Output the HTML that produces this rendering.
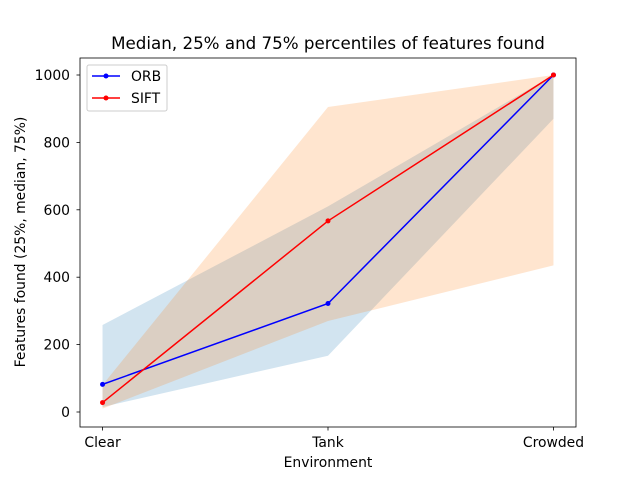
<!DOCTYPE html>
<html><head><meta charset="utf-8"><style>body{margin:0;background:#fff}svg{display:block;font-family:"DejaVu Sans","Liberation Sans",sans-serif}</style></head>
<body>
<svg id="chart" width="640" height="480"></svg>
<script>
const categories=["Clear","Tank","Crowded"];
const orbMedian=[82,322,1000];
const orbLow=[15,167,870];
const orbHigh=[258,610,1000];
const siftMedian=[28,567,1000];
const siftLow=[10,270,435];
const siftHigh=[80,905,1000];
const yTicks=[0,200,400,600,800,1000];
const NS="http://www.w3.org/2000/svg";
const svg=document.getElementById('chart');
const L=80,R=576,T=58,B=427;
const x=i=>L+(i+0.1)/2.2*(R-L);
const y=v=>412-v*0.337;
function el(tag,attrs,parent){const e=document.createElementNS(NS,tag);for(const k in attrs)e.setAttribute(k,attrs[k]);(parent||svg).appendChild(e);return e;}
function band(lo,hi,color,name){
  let d=lo.map((v,i)=>(i?'L':'M')+x(i)+','+y(v)).join(' ');
  for(let i=hi.length-1;i>=0;i--)d+=' L'+x(i)+','+y(hi[i]);
  const p=el('path',{d:d+'Z',fill:color,'fill-opacity':0.2});
  
  
}
band(orbLow,orbHigh,'#1f77b4','orb-band');
band(siftLow,siftHigh,'#ff7f0e','sift-band');
function line(vals,color,name){
  const p=el('polyline',{points:vals.map((v,i)=>x(i)+','+y(v)).join(' '),fill:'none',stroke:color,'stroke-width':1.5});
  
  
  vals.forEach((v,i)=>{const c=el('circle',{cx:x(i),cy:y(v),r:2.5,fill:color});
    
    });
}
line(orbMedian,'#0000ff','orb');
line(siftMedian,'#ff0000','sift');
const frame=el('rect',{x:L,y:T,width:R-L,height:B-T,fill:'none',stroke:'#000','stroke-width':0.8});


yTicks.forEach(v=>{el('line',{x1:L-3.5,x2:L,y1:y(v),y2:y(v),stroke:'#000','stroke-width':0.8});
  const t=el('text',{x:L-10,y:y(v)+5,'text-anchor':'end','font-size':13.9});t.textContent=v;
  
  });
categories.forEach((c,i)=>{el('line',{x1:x(i),x2:x(i),y1:B,y2:B+3.5,stroke:'#000','stroke-width':0.8});
  const t=el('text',{x:x(i),y:B+20,'text-anchor':'middle','font-size':13.9});t.textContent=c;
  
  });
const ti=el('text',{x:328,y:49,'text-anchor':'middle','font-size':16.7});ti.textContent='Median, 25% and 75% percentiles of features found';


const xt=el('text',{x:328,y:467,'text-anchor':'middle','font-size':13.9});xt.textContent='Environment';


const yt=el('text',{x:0,y:0,'text-anchor':'middle','font-size':13.9,transform:'translate(25,242) rotate(-90)'});yt.textContent='Features found (25%, median, 75%)';


const lg=el('g',{});


el('rect',{x:87,y:65,width:80,height:46,rx:2,fill:'#fff','fill-opacity':0.8,stroke:'#ccc'},lg);
[['ORB','#0000ff',76],['SIFT','#ff0000',98]].forEach(([n,c,yy])=>{
  el('line',{x1:92,x2:120,y1:yy,y2:yy,stroke:c,'stroke-width':1.5},lg);
  el('circle',{cx:106,cy:yy,r:2.5,fill:c},lg);
  const t=el('text',{x:131,y:yy+5,'font-size':13.9},lg);t.textContent=n;
  
  
});
</script>
</body></html>
